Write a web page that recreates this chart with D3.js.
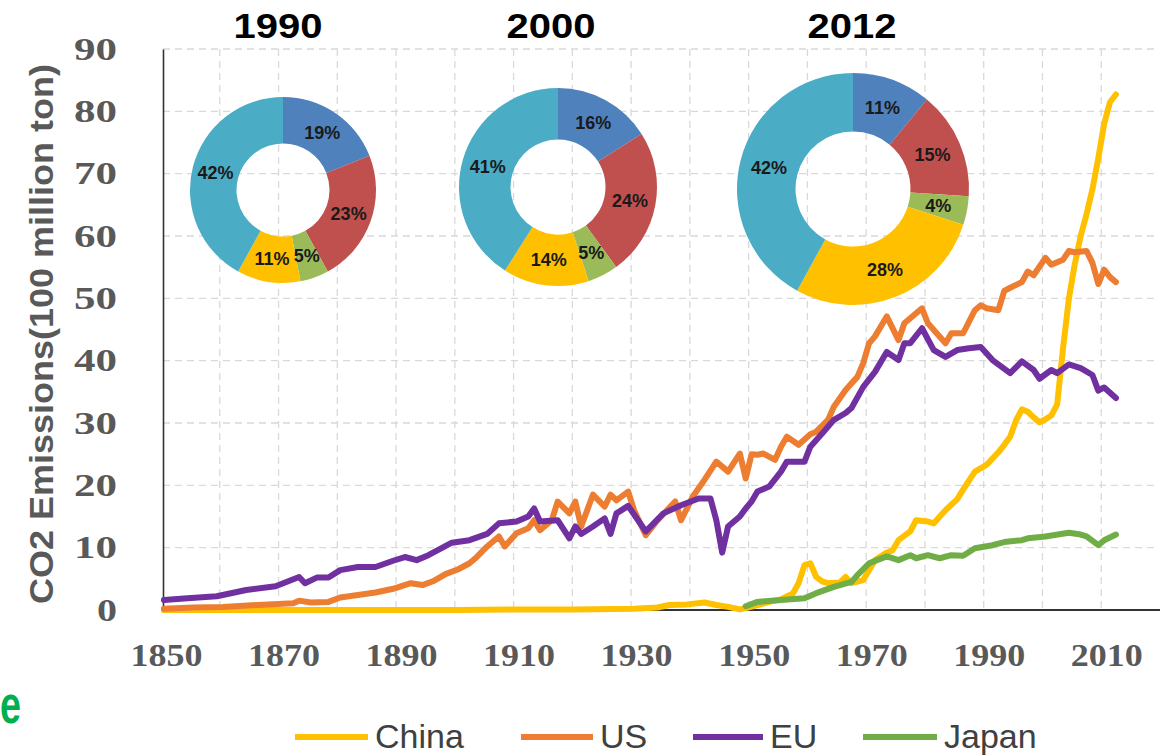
<!DOCTYPE html>
<html>
<head>
<meta charset="utf-8">
<script src="https://cdn.jsdelivr.net/npm/d3@7"></script>
<style>
  html, body { margin: 0; padding: 0; background: #ffffff; }
  svg { display: block; }
</style>
</head>
<body>
<svg id="chart" width="1168" height="756"></svg>
<script>
// ---- Annual CO2 emissions (100 million ton) ----
const chinaYears  = [1850, 1880, 1900, 1910, 1920, 1930, 1934, 1936, 1939, 1942, 1944, 1946, 1948, 1949, 1951, 1953, 1955, 1956, 1957, 1958, 1959, 1960, 1961, 1962, 1963, 1965, 1966, 1967, 1969, 1971, 1973, 1974, 1975, 1977, 1978, 1980, 1981, 1983, 1985, 1986, 1988, 1990, 1992, 1993, 1994, 1995, 1996, 1997, 1998, 1999, 2000, 2001, 2002, 2003, 2004, 2005, 2006, 2007, 2008, 2009, 2010, 2011, 2012];
const chinaValues = [0.0, 0.0, 0.0, 0.1, 0.1, 0.2, 0.4, 0.8, 0.9, 1.2, 0.8, 0.5, 0.1, 0.3, 0.8, 1.3, 1.7, 2.2, 2.6, 4.3, 7.2, 7.5, 5.3, 4.6, 4.3, 4.4, 5.3, 4.3, 4.8, 8.0, 9.2, 9.6, 11.2, 12.6, 14.4, 14.2, 13.9, 16.0, 17.8, 19.3, 22.2, 23.3, 25.3, 26.5, 27.8, 30.4, 32.2, 31.8, 30.9, 30.1, 30.6, 31.2, 33.0, 42.0, 50.0, 55.5, 60.0, 63.5, 67.5, 72.5, 78.0, 81.5, 82.7];

const usYears  = [1850, 1855, 1860, 1866, 1872, 1873, 1875, 1878, 1880, 1883, 1886, 1889, 1892, 1894, 1896, 1898, 1900, 1902, 1903, 1905, 1907, 1908, 1910, 1912, 1913, 1914, 1916, 1917, 1919, 1920, 1921, 1923, 1925, 1926, 1927, 1929, 1930, 1932, 1934, 1937, 1938, 1940, 1942, 1944, 1946, 1948, 1949, 1950, 1951, 1952, 1954, 1955, 1956, 1958, 1960, 1961, 1963, 1964, 1966, 1968, 1969, 1970, 1971, 1973, 1975, 1976, 1979, 1980, 1983, 1984, 1986, 1988, 1989, 1990, 1992, 1993, 1994, 1996, 1997, 1998, 2000, 2001, 2003, 2004, 2005, 2007, 2008, 2009, 2010, 2011, 2012];
const usValues = [0.2, 0.4, 0.5, 0.8, 1.1, 1.5, 1.2, 1.3, 2.0, 2.4, 2.8, 3.4, 4.3, 4.0, 4.7, 5.8, 6.5, 7.5, 8.3, 10.2, 11.8, 10.2, 12.3, 13.1, 14.4, 12.8, 14.4, 17.4, 15.5, 17.4, 13.4, 18.5, 16.6, 18.5, 17.6, 19.0, 16.0, 12.0, 14.4, 17.4, 14.4, 18.2, 20.9, 23.8, 22.2, 25.1, 21.1, 25.0, 24.9, 25.1, 24.1, 26.2, 27.8, 26.5, 28.2, 28.6, 30.5, 32.6, 35.3, 37.4, 39.6, 42.8, 43.9, 47.1, 43.3, 46.0, 48.4, 46.0, 42.8, 44.4, 44.4, 48.1, 48.9, 48.4, 48.1, 51.2, 51.7, 52.6, 54.3, 53.7, 56.5, 55.4, 56.2, 57.6, 57.4, 57.6, 55.7, 52.3, 54.6, 53.4, 52.6];

const euYears  = [1850, 1854, 1859, 1864, 1869, 1873, 1874, 1876, 1878, 1880, 1883, 1886, 1889, 1891, 1893, 1895, 1897, 1899, 1902, 1905, 1907, 1910, 1912, 1913, 1914, 1917, 1919, 1920, 1921, 1923, 1925, 1926, 1927, 1929, 1932, 1935, 1938, 1941, 1943, 1944, 1945, 1946, 1948, 1949, 1950, 1951, 1953, 1955, 1956, 1959, 1960, 1962, 1964, 1966, 1967, 1969, 1971, 1973, 1975, 1976, 1977, 1979, 1981, 1983, 1985, 1987, 1989, 1991, 1994, 1996, 1998, 1999, 2001, 2002, 2004, 2006, 2008, 2009, 2010, 2012];
const euValues = [1.6, 1.9, 2.2, 3.2, 3.8, 5.3, 4.3, 5.2, 5.2, 6.4, 6.9, 6.9, 7.9, 8.5, 8.0, 8.8, 9.8, 10.8, 11.2, 12.2, 13.9, 14.2, 15.0, 16.3, 14.2, 14.4, 11.5, 13.4, 12.2, 13.4, 14.7, 12.2, 15.5, 16.7, 12.6, 15.5, 16.8, 17.9, 17.9, 14.4, 9.2, 13.4, 15.0, 16.3, 17.4, 19.0, 19.8, 22.2, 23.8, 23.8, 26.2, 28.3, 30.5, 31.6, 32.4, 35.8, 38.2, 41.4, 40.1, 42.8, 42.8, 45.2, 41.7, 40.6, 41.7, 42.0, 42.2, 40.1, 38.0, 39.9, 38.5, 37.1, 38.5, 38.0, 39.4, 38.8, 37.7, 35.2, 35.7, 34.0];

const japanYears  = [1949, 1951, 1955, 1959, 1961, 1964, 1967, 1968, 1970, 1973, 1975, 1977, 1978, 1980, 1982, 1984, 1986, 1988, 1991, 1993, 1996, 1997, 2000, 2004, 2006, 2007, 2009, 2010, 2012];
const japanValues = [0.6, 1.3, 1.6, 1.9, 2.7, 3.7, 4.5, 5.6, 7.5, 8.6, 8.0, 8.8, 8.3, 8.8, 8.3, 8.8, 8.7, 9.9, 10.4, 10.9, 11.2, 11.5, 11.8, 12.4, 12.1, 11.8, 10.4, 11.2, 12.1];

// ---- Axis ticks ----
const yTickValues = [0, 10, 20, 30, 40, 50, 60, 70, 80, 90];
const xLabelYears = [1850, 1870, 1890, 1910, 1930, 1950, 1970, 1990, 2010];
const xGridYears  = [1860, 1870, 1880, 1890, 1900, 1910, 1920, 1930, 1940, 1950, 1960, 1970, 1980, 1990, 2000, 2010];

// ---- Share of world emissions (%) ----
const shareGroups = ["EU", "US", "Japan", "China", "Others"];
const shareTitles = ["1990", "2000", "2012"];
const share1990 = [19, 23, 5, 11, 42];
const share2000 = [16, 24, 5, 14, 41];
const share2012 = [11, 15, 4, 28, 42];

// ---- Legend ----
const legendNames = ["China", "US", "EU", "Japan"];

const seriesColor = { China: "#FFC000", US: "#ED7D31", EU: "#7030A0", Japan: "#70AD47" };
const shareColor  = { EU: "#4F81BD", US: "#C0504D", Japan: "#9BBB59", China: "#FFC000", Others: "#4BACC6" };

const svg = d3.select("#chart");

const plot = { left: 163, right: 1158, top: 49, bottom: 610 };
const x = d3.scaleLinear().domain([1850, 2020]).range([161, 1160]);
const y = d3.scaleLinear().domain([0, 90]).range([plot.bottom, plot.top]);
// each year sits in the middle of its category slot
const xc = yr => x(yr + 0.5);

// gridlines
const grid = svg.append("g").attr("stroke", "#d9d9d9").attr("stroke-width", 1.3)
  .attr("stroke-dasharray", "7,5").attr("fill", "none");
grid.selectAll("line.h").data(yTickValues.filter(v => v > 0)).join("line")
  .attr("class", "h")
  .attr("x1", plot.left).attr("x2", plot.right)
  .attr("y1", d => y(d)).attr("y2", d => y(d));
grid.selectAll("line.v").data(xGridYears).join("line")
  .attr("class", "v")
  .attr("x1", d => x(d)).attr("x2", d => x(d))
  .attr("y1", plot.top).attr("y2", plot.bottom);

// y axis
const yAxis = svg.append("g")
  .attr("transform", `translate(${plot.left},0)`)
  .call(d3.axisLeft(y).tickValues(yTickValues).tickSize(0).tickPadding(46));
yAxis.select(".domain").attr("stroke", "#333").attr("stroke-width", 1.6);
yAxis.selectAll("text")
  .attr("font-family", "'Liberation Serif', 'Times New Roman', serif")
  .attr("font-weight", "bold").attr("font-size", 32).attr("fill", "#595959")
  .attr("textLength", d => d === 0 ? 20 : 43).attr("lengthAdjust", "spacingAndGlyphs");

// x axis
const xAxis = svg.append("g")
  .attr("transform", `translate(0,${plot.bottom})`)
  .call(d3.axisBottom(x).tickValues(xLabelYears).tickFormat(d3.format("d")).tickSize(0).tickPadding(33));
xAxis.select(".domain").attr("stroke", "#333").attr("stroke-width", 2)
  .attr("d", `M${plot.left},0H${1160}`);
xAxis.selectAll("text")
  .attr("font-family", "'Liberation Serif', 'Times New Roman', serif")
  .attr("font-weight", "bold").attr("font-size", 32).attr("fill", "#595959")
  .attr("dx", 5)
  .attr("textLength", 72).attr("lengthAdjust", "spacingAndGlyphs");

// y axis title
svg.append("text")
  .attr("transform", "translate(53,334) rotate(-90)")
  .attr("text-anchor", "middle")
  .attr("font-family", "'Liberation Sans', Arial, sans-serif")
  .attr("font-weight", "bold").attr("font-size", 34).attr("fill", "#595959")
  .attr("textLength", 540).attr("lengthAdjust", "spacingAndGlyphs")
  .text("CO2 Emissions(100 million ton)");

// emission lines
const series = [
  { name: "China", years: chinaYears, values: chinaValues },
  { name: "US",    years: usYears,    values: usValues },
  { name: "EU",    years: euYears,    values: euValues },
  { name: "Japan", years: japanYears, values: japanValues }
];
const line = d3.line().x(d => xc(d[0])).y(d => y(d[1]));
svg.append("g").selectAll("path").data(series).join("path")
  .attr("d", s => line(d3.zip(s.years, s.values)))
  .attr("fill", "none")
  .attr("stroke", s => seriesColor[s.name])
  .attr("stroke-width", 6)
  .attr("stroke-linejoin", "round")
  .attr("stroke-linecap", "round");

// share donuts
const donuts = [
  { title: shareTitles[0], values: share1990, cx: 283, cy: 190, r: 93,  r0: 46.5, tx: 278 },
  { title: shareTitles[1], values: share2000, cx: 558, cy: 187, r: 99,  r0: 47.5, tx: 551 },
  { title: shareTitles[2], values: share2012, cx: 853, cy: 189, r: 116, r0: 57.5, tx: 852 }
];
const pie = d3.pie().sort(null).value(d => d.v);
donuts.forEach(dn => {
  const arcs = pie(shareGroups.map((g, i) => ({ g, v: dn.values[i] })));
  const arc = d3.arc().innerRadius(dn.r0).outerRadius(dn.r);
  const g = svg.append("g").attr("transform", `translate(${dn.cx},${dn.cy})`);
  g.selectAll("path").data(arcs).join("path")
    .attr("d", arc)
    .attr("fill", d => shareColor[d.data.g]);
  g.selectAll("text").data(arcs).join("text")
    .attr("transform", d => `translate(${arc.centroid(d)})`)
    .attr("text-anchor", "middle").attr("dy", "0.36em")
    .attr("font-family", "'Liberation Sans', Arial, sans-serif")
    .attr("font-weight", "bold").attr("font-size", 18).attr("fill", "#1a1a1a")
    .text(d => d.data.v + "%");
  svg.append("text")
    .attr("x", dn.tx).attr("y", 38)
    .attr("text-anchor", "middle")
    .attr("font-family", "'Liberation Sans', Arial, sans-serif")
    .attr("font-weight", "bold").attr("font-size", 35).attr("fill", "#000")
    .attr("textLength", 89).attr("lengthAdjust", "spacingAndGlyphs")
    .text(dn.title);
});

// legend
const legendPos = [
  { lx: 295, tx: 375 },
  { lx: 521, tx: 600 },
  { lx: 693, tx: 770 },
  { lx: 863, tx: 944 }
];
const legend = svg.append("g");
legendNames.forEach((name, i) => {
  const p = legendPos[i];
  legend.append("line")
    .attr("x1", p.lx).attr("x2", p.tx - 7)
    .attr("y1", 737).attr("y2", 737)
    .attr("stroke", seriesColor[name]).attr("stroke-width", 6);
  legend.append("text")
    .attr("x", p.tx).attr("y", 748)
    .attr("font-family", "'Liberation Sans', Arial, sans-serif")
    .attr("font-size", 34).attr("fill", "#404040")
    .text(name);
});

// stray letter at lower left
svg.append("text")
  .attr("x", 0).attr("y", 723)
  .attr("font-family", "'Liberation Sans', Arial, sans-serif")
  .attr("font-weight", "bold").attr("font-size", 54).attr("fill", "#00B050")
  .attr("textLength", 21).attr("lengthAdjust", "spacingAndGlyphs")
  .text("e");
</script>
</body>
</html>
